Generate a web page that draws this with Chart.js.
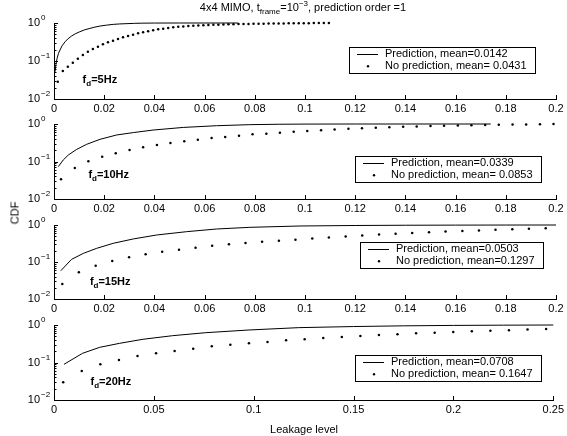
<!DOCTYPE html>
<html>
<head>
<meta charset="utf-8">
<script src="https://cdn.jsdelivr.net/npm/chart.js@4.4.1/dist/chart.umd.min.js"></script>
<style>
  body { margin: 0; background: #fff; }
  #wrap { position: relative; width: 567px; height: 436px; font-family: "Liberation Sans", Arial, sans-serif; color: #000; }
  #wrap canvas { position: absolute; left: 0; top: 0; }
  .lbl { position: absolute; font-size: 11px; line-height: 13px; white-space: nowrap; }
  .lbl sub, .lbl sup { font-size: 8px; line-height: 0; }
  .lbl sub { vertical-align: -3px; }
  .lbl sup { vertical-align: 5px; }
</style>
</head>
<body>
<div id="wrap">
  <canvas id="c5" width="567" height="436"></canvas>
  <canvas id="c10" width="567" height="436"></canvas>
  <canvas id="c15" width="567" height="436"></canvas>
  <canvas id="c20" width="567" height="436"></canvas>
  <div class="lbl" style="left:303px;top:1px;transform:translateX(-50%);">4x4 MIMO, t<sub>frame</sub>=10<sup>&minus;3</sup>, prediction order =1</div>
  <div class="lbl" style="left:15px;top:213px;transform:translate(-50%,-50%) rotate(-90deg);">CDF</div>
  <div class="lbl" style="left:304px;top:423px;transform:translateX(-50%);">Leakage level</div>
</div>
<script>
// f_d = 5 Hz
const x5Pred = [0.0004, 0.0008, 0.0012, 0.0018, 0.0024, 0.0032, 0.0044, 0.0056, 0.007, 0.0085, 0.0103, 0.0122, 0.0143, 0.0163, 0.0183, 0.021, 0.0236, 0.0262, 0.0287, 0.032, 0.035, 0.04, 0.05, 0.06, 0.0733];
const y5Pred = [0.052, 0.082, 0.115, 0.16, 0.195, 0.25, 0.32, 0.385, 0.455, 0.52, 0.59, 0.66, 0.72, 0.78, 0.83, 0.88, 0.92, 0.945, 0.96, 0.978, 0.99, 0.997, 1.0, 1.0, 1.0];
const x5NoPred = [0.0015, 0.0035, 0.0055, 0.0075, 0.0095, 0.0115, 0.0135, 0.0155, 0.0175, 0.0195, 0.0215, 0.0235, 0.0255, 0.0275, 0.0295, 0.0315, 0.0335, 0.0355, 0.0375, 0.0395, 0.0415, 0.0435, 0.0455, 0.0475, 0.0495, 0.0515, 0.0535, 0.0555, 0.0575, 0.0595, 0.0615, 0.0635, 0.0655, 0.0675, 0.0695, 0.0715, 0.0735, 0.0755, 0.0775, 0.0795, 0.0815, 0.0835, 0.0855, 0.0875, 0.0895, 0.0915, 0.0935, 0.0955, 0.0975, 0.0995, 0.1015, 0.1035, 0.1055, 0.1075, 0.1095];
const y5NoPred = [0.0286, 0.0546, 0.071, 0.090, 0.115, 0.144, 0.176, 0.207, 0.238, 0.275, 0.310, 0.343, 0.379, 0.420, 0.455, 0.493, 0.535, 0.568, 0.604, 0.641, 0.681, 0.710, 0.738, 0.769, 0.792, 0.81, 0.83, 0.845, 0.86, 0.872, 0.885, 0.895, 0.905, 0.913, 0.921, 0.928, 0.935, 0.941, 0.947, 0.952, 0.957, 0.962, 0.966, 0.970, 0.974, 0.977, 0.980, 0.984, 0.987, 0.990, 0.992, 0.995, 0.997, 0.999, 1.0];

// f_d = 10 Hz
const x10Pred = [0.0017, 0.0037, 0.0057, 0.009, 0.013, 0.0183, 0.025, 0.0316, 0.0395, 0.0515, 0.0648, 0.078, 0.09, 0.1, 0.12, 0.14, 0.174];
const y10Pred = [0.073, 0.11, 0.149, 0.21, 0.287, 0.39, 0.51, 0.59, 0.69, 0.81, 0.90, 0.96, 0.985, 0.995, 1.0, 1.0, 1.0];
const x10NoPred = [0.0028, 0.0083, 0.0137, 0.0192, 0.0246, 0.0301, 0.0355, 0.041, 0.0464, 0.0519, 0.0573, 0.0628, 0.0682, 0.0737, 0.0791, 0.0846, 0.09, 0.0955, 0.1009, 0.1064, 0.1118, 0.1173, 0.1227, 0.1282, 0.1336, 0.1391, 0.1445, 0.15, 0.1554, 0.1609, 0.1663, 0.1718, 0.1772, 0.1827, 0.1881, 0.1936, 0.199];
const y10NoPred = [0.0335, 0.067, 0.101, 0.134, 0.166, 0.203, 0.239, 0.275, 0.311, 0.346, 0.381, 0.424, 0.45, 0.488, 0.531, 0.551, 0.586, 0.624, 0.655, 0.685, 0.715, 0.745, 0.77, 0.795, 0.82, 0.84, 0.86, 0.88, 0.895, 0.91, 0.925, 0.94, 0.952, 0.963, 0.975, 0.985, 0.993];

// f_d = 15 Hz
const x15Pred = [0.0027, 0.007, 0.0117, 0.017, 0.0236, 0.0316, 0.0409, 0.0528, 0.0648, 0.078, 0.098, 0.12, 0.14, 0.16, 0.18, 0.2];
const y15Pred = [0.058, 0.118, 0.171, 0.234, 0.32, 0.42, 0.537, 0.66, 0.78, 0.865, 0.94, 0.97, 0.985, 0.993, 0.998, 1.0];
const x15NoPred = [0.0033, 0.0099, 0.0166, 0.0232, 0.0299, 0.0365, 0.0431, 0.0498, 0.0564, 0.063, 0.0697, 0.0763, 0.0829, 0.0896, 0.0962, 0.1029, 0.1095, 0.1162, 0.1228, 0.1295, 0.1361, 0.1427, 0.1494, 0.156, 0.1627, 0.1693, 0.1759, 0.1826, 0.1892, 0.1959];
const y15NoPred = [0.0254, 0.0526, 0.0794, 0.106, 0.134, 0.161, 0.19, 0.215, 0.244, 0.276, 0.30, 0.327, 0.354, 0.377, 0.40, 0.43, 0.46, 0.49, 0.52, 0.55, 0.58, 0.61, 0.64, 0.665, 0.69, 0.715, 0.74, 0.765, 0.79, 0.82];

// f_d = 20 Hz
const x20Pred = [0.005, 0.0143, 0.0229, 0.0329, 0.0445, 0.0594, 0.076, 0.0976, 0.1225, 0.15, 0.175, 0.2, 0.225, 0.25];
const y20Pred = [0.0895, 0.176, 0.254, 0.325, 0.416, 0.519, 0.624, 0.736, 0.85, 0.91, 0.95, 0.975, 0.99, 1.0];
const x20NoPred = [0.0046, 0.0139, 0.0232, 0.0325, 0.0418, 0.0511, 0.0604, 0.0697, 0.079, 0.0883, 0.0976, 0.1069, 0.1162, 0.1255, 0.1348, 0.1441, 0.1534, 0.1627, 0.172, 0.1813, 0.1906, 0.1999, 0.2092, 0.2185, 0.2278, 0.2371, 0.2464];
const y20NoPred = [0.0296, 0.0593, 0.0895, 0.117, 0.149, 0.176, 0.203, 0.233, 0.27, 0.299, 0.325, 0.352, 0.391, 0.42, 0.45, 0.48, 0.51, 0.54, 0.57, 0.60, 0.625, 0.65, 0.68, 0.705, 0.73, 0.755, 0.78];

const predMeans = ['0.0142', '0.0339', '0.0503', '0.0708'];
const noPredMeans = [' 0.0431', ' 0.0853', '0.1297', ' 0.1647'];
const fdLabels = ['5Hz', '10Hz', '15Hz', '20Hz'];

// log-axis tick positions (1..9 per decade)
const yTickValues = [0.01, 0.02, 0.03, 0.04, 0.05, 0.06, 0.07, 0.08, 0.09, 0.1, 0.2, 0.3, 0.4, 0.5, 0.6, 0.7, 0.8, 0.9, 1];
const yLabelValues = [0.01, 0.1, 1];
const yLabelExp = ['\u22122', '\u22121', '0'];

Chart.defaults.font.family = '"Liberation Sans", Arial, sans-serif';
Chart.defaults.font.size = 11;
Chart.defaults.color = '#000';

const FONT = '"Liberation Sans", Arial, sans-serif';

// ticks pointing inward, 10^n labels, f_d text and legend box
const decorPlugin = {
  id: 'decor',
  afterDraw(chart, args, opts) {
    const ctx = chart.ctx, xs = chart.scales.x, ys = chart.scales.y, area = chart.chartArea;
    ctx.save();
    ctx.strokeStyle = '#000';
    ctx.lineWidth = 1;
    ctx.beginPath();
    yTickValues.forEach(v => {
      const py = Math.round(ys.getPixelForValue(v)) + 0.5;
      const major = yLabelValues.includes(v);
      ctx.moveTo(area.left, py);
      ctx.lineTo(area.left + (major ? 4 : 2.5), py);
    });
    xs.ticks.forEach(t => {
      const px = Math.round(xs.getPixelForValue(t.value)) + 0.5;
      ctx.moveTo(px, area.bottom);
      ctx.lineTo(px, area.bottom - 4);
    });
    ctx.stroke();

    // y labels 10^n
    ctx.fillStyle = '#000';
    ctx.textBaseline = 'middle';
    yLabelValues.forEach((v, i) => {
      const py = ys.getPixelForValue(v);
      ctx.font = '11px ' + FONT;
      ctx.textAlign = 'right';
      ctx.fillText('10', 40, py);
      ctx.font = '8px ' + FONT;
      ctx.textAlign = 'left';
      ctx.fillText(yLabelExp[i], 41, py - 5);
    });

    // f_d label
    const fx = xs.getPixelForValue(opts.fdAt[0]);
    const fy = ys.getPixelForValue(opts.fdAt[1]);
    ctx.textAlign = 'left';
    ctx.font = 'bold 11px ' + FONT;
    ctx.fillText('f', fx, fy - 1);
    let w = ctx.measureText('f').width;
    ctx.font = 'bold 8px ' + FONT;
    ctx.fillText('d', fx + w, fy + 3);
    w += ctx.measureText('d').width;
    ctx.font = 'bold 11px ' + FONT;
    ctx.fillText('=' + opts.fdText, fx + w, fy - 1);

    // legend
    const lg = opts.legend;
    ctx.font = '11px ' + FONT;
    const t1 = 'Prediction, mean=' + opts.predMean;
    const t2 = 'No prediction, mean=' + opts.noPredMean;
    const tw = Math.max(ctx.measureText(t1).width, ctx.measureText(t2).width);
    const bw = Math.round(36 + tw + 8);
    ctx.fillStyle = '#fff';
    ctx.fillRect(lg.left, lg.top, bw, lg.height);
    ctx.strokeStyle = '#000';
    ctx.strokeRect(lg.left + 0.5, lg.top + 0.5, bw, lg.height);
    const r1 = lg.top + lg.height * 0.28, r2 = lg.top + lg.height * 0.74;
    ctx.beginPath();
    ctx.moveTo(lg.left + 8, Math.round(r1) + 0.5);
    ctx.lineTo(lg.left + 29, Math.round(r1) + 0.5);
    ctx.stroke();
    ctx.fillStyle = '#000';
    ctx.beginPath();
    ctx.arc(lg.left + 19, r2, 1.2, 0, Math.PI * 2);
    ctx.fill();
    ctx.fillText(t1, lg.left + 36, r1);
    ctx.fillText(t2, lg.left + 36, r2);
    ctx.restore();
  }
};

function toPoints(xs, ys) {
  return xs.map((x, i) => ({ x: x, y: ys[i] }));
}

function makeChart(id, o) {
  return new Chart(document.getElementById(id), {
    type: 'scatter',
    data: {
      datasets: [
        {
          label: 'Prediction',
          data: toPoints(o.predX, o.predY),
          showLine: true,
          borderColor: '#000',
          borderWidth: 1,
          pointRadius: 0,
          clip: false
        },
        {
          label: 'No prediction',
          data: toPoints(o.noX, o.noY),
          showLine: false,
          pointRadius: 1.25,
          pointBorderWidth: 0,
          backgroundColor: '#000',
          clip: false
        }
      ]
    },
    options: {
      responsive: false,
      animation: false,
      events: [],
      layout: { padding: { left: 0, right: 11, top: o.top, bottom: 436 - o.bottom - 20 } },
      scales: {
        x: {
          type: 'linear',
          min: 0,
          max: o.xMax,
          grid: { display: true, drawOnChartArea: false, drawTicks: false },
          border: { display: true, color: '#000', width: 1 },
          ticks: {
            stepSize: o.xStep,
            autoSkip: false,
            maxRotation: 0,
            padding: 3,
            color: '#000',
            font: { size: 11 },
            callback: v => String(+Number(v).toFixed(4))
          },
          afterFit: s => { s.height = 20; }
        },
        y: {
          type: 'logarithmic',
          min: 0.01,
          max: 1,
          grid: { display: true, drawOnChartArea: false, drawTicks: false },
          border: { display: true, color: '#000', width: 1 },
          ticks: { display: false },
          afterFit: s => { s.width = 54; }
        }
      },
      plugins: {
        legend: { display: false },
        tooltip: { enabled: false },
        decor: {
          fdAt: o.fdAt,
          fdText: o.fdText,
          predMean: o.predMean,
          noPredMean: o.noPredMean,
          legend: o.legend
        }
      }
    },
    plugins: [decorPlugin]
  });
}

makeChart('c5', {
  predX: x5Pred, predY: y5Pred, noX: x5NoPred, noY: y5NoPred,
  top: 23, bottom: 99, xMax: 0.2, xStep: 0.02,
  fdAt: [0.0114, 0.03], fdText: fdLabels[0],
  predMean: predMeans[0], noPredMean: noPredMeans[0],
  legend: { left: 349, top: 47, height: 26 }
});
makeChart('c10', {
  predX: x10Pred, predY: y10Pred, noX: x10NoPred, noY: y10NoPred,
  top: 124, bottom: 199, xMax: 0.2, xStep: 0.02,
  fdAt: [0.0137, 0.041], fdText: fdLabels[1],
  predMean: predMeans[1], noPredMean: noPredMeans[1],
  legend: { left: 355, top: 156, height: 26 }
});
makeChart('c15', {
  predX: x15Pred, predY: y15Pred, noX: x15NoPred, noY: y15NoPred,
  top: 225, bottom: 299, xMax: 0.2, xStep: 0.02,
  fdAt: [0.0143, 0.027], fdText: fdLabels[2],
  predMean: predMeans[2], noPredMean: noPredMeans[2],
  legend: { left: 360, top: 242, height: 26 }
});
makeChart('c20', {
  predX: x20Pred, predY: y20Pred, noX: x20NoPred, noY: y20NoPred,
  top: 325, bottom: 400, xMax: 0.25, xStep: 0.05,
  fdAt: [0.0183, 0.028], fdText: fdLabels[3],
  predMean: predMeans[3], noPredMean: noPredMeans[3],
  legend: { left: 355, top: 355, height: 26 }
});
</script>
</body>
</html>
